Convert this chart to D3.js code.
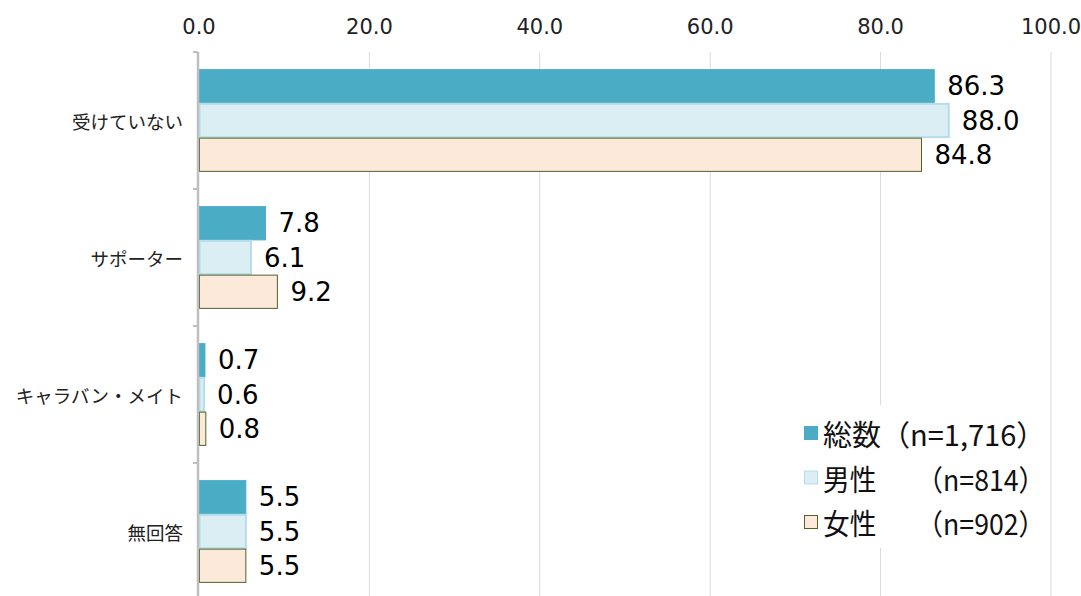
<!DOCTYPE html>
<html>
<head>
    <meta charset="utf-8">
    <title>Horizontal grouped bars with D3.js v7</title>
    <script src="https://d3js.org/d3.v7.min.js"></script>
    <style>
        body { margin: 0; background: #fff; }
        text { font-family: "DejaVu Sans", "Noto Sans CJK JP", sans-serif; }
        .jp { font-family: "Noto Sans CJK JP", sans-serif; }
    </style>
</head>
<body>
    <div id="chart"></div>

    <script>
        const categories = ["受けていない", "サポーター", "キャラバン・メイト", "無回答"];
        const seriesNames = ["総数（n=1,716）", "男性　　（n=814）", "女性　　（n=902）"];
        const totalValues = [86.3, 7.8, 0.7, 5.5];
        const maleValues = [88.0, 6.1, 0.6, 5.5];
        const femaleValues = [84.8, 9.2, 0.8, 5.5];
        const xTicks = [0, 20, 40, 60, 80, 100];

        const series = [totalValues, maleValues, femaleValues];
        const fills = ["#4bacc6", "#daeef3", "#fde9d9"];
        const strokes = ["#4bacc6", "#b7dde8", "#4f6228"];

        const W = 1081, H = 596;
        const margin = {top: 52, right: 30, bottom: -4, left: 199};
        const width = 1051 - margin.left;
        const height = H - margin.top - margin.bottom;

        const svg = d3.select("#chart").append("svg")
            .attr("width", W)
            .attr("height", H);

        const g = svg.append("g")
            .attr("transform", "translate(" + margin.left + "," + margin.top + ")");

        const x = d3.scaleLinear().domain([0, 100]).range([0, width]);
        const y = d3.scaleBand().domain(categories).range([0, height]).paddingInner(0.25).paddingOuter(0.125);
        const y1 = d3.scaleBand().domain(d3.range(series.length)).range([0, y.bandwidth()]);

        // gridlines
        g.selectAll("line.grid")
            .data(xTicks.slice(1))
            .enter().append("line")
            .attr("x1", d => x(d)).attr("x2", d => x(d))
            .attr("y1", 0).attr("y2", height)
            .attr("stroke", "#d9d9d9").attr("stroke-width", 1);

        // top tick labels
        g.selectAll("text.tick")
            .data(xTicks)
            .enter().append("text")
            .attr("x", d => x(d))
            .attr("y", -25)
            .attr("text-anchor", "middle")
            .attr("dominant-baseline", "central")
            .attr("font-size", 21)
            .attr("fill", "#222")
            .text(d => d.toFixed(1));

        // bars
        const groups = g.selectAll("g.cat")
            .data(categories)
            .enter().append("g")
            .attr("transform", d => "translate(0," + y(d) + ")");

        series.forEach((vals, si) => {
            groups.append("rect")
                .attr("x", 0.5)
                .attr("y", (d, ci) => y1(si) + 0.5)
                .attr("width", (d, ci) => Math.max(x(vals[ci]) - 0.5, 1))
                .attr("height", y1.bandwidth() - 1)
                .attr("fill", fills[si])
                .attr("stroke", strokes[si])
                .attr("stroke-width", si === 1 ? 2 : 1);

            groups.append("text")
                .attr("x", (d, ci) => x(vals[ci]) + 13)
                .attr("y", (d, ci) => y1(si) + y1.bandwidth() / 2)
                .attr("dominant-baseline", "central")
                .attr("font-size", 26)
                .attr("fill", "#000")
                .text((d, ci) => vals[ci].toFixed(1));
        });

        // left axis
        const band = y.step();
        const bounds = d3.range(categories.length + 1).map(i => i * band);
        g.append("line")
            .attr("x1", -1).attr("x2", -1)
            .attr("y1", 0).attr("y2", height)
            .attr("stroke", "#bfbfbf").attr("stroke-width", 2.5);
        g.selectAll("line.ytick")
            .data(bounds)
            .enter().append("line")
            .attr("x1", -6).attr("x2", -1)
            .attr("y1", d => d).attr("y2", d => d)
            .attr("stroke", "#bfbfbf").attr("stroke-width", 2);

        g.selectAll("text.cat")
            .data(categories)
            .enter().append("text")
            .attr("class", "jp")
            .attr("x", -16)
            .attr("y", d => y(d) + y.bandwidth() / 2)
            .attr("text-anchor", "end")
            .attr("dominant-baseline", "central")
            .attr("font-size", 18.5)
            .attr("fill", "#222")
            .text(d => d);

        // legend
        const legend = svg.append("g").attr("transform", "translate(792,405)");
        legend.append("rect")
            .attr("x", 0).attr("y", 0)
            .attr("width", 250).attr("height", 143)
            .attr("fill", "#fff");
        let legendLen = null;
        seriesNames.forEach((name, i) => {
            const row = legend.append("g").attr("transform", "translate(12," + (28 + i * 44.5) + ")");
            row.append("rect")
                .attr("x", 0.5).attr("y", -6.5)
                .attr("width", 13).attr("height", 13)
                .attr("fill", fills[i])
                .attr("stroke", strokes[i])
                .attr("stroke-width", 1);
            const t = row.append("text")
                .attr("class", "jp")
                .attr("x", 19)
                .attr("y", 0)
                .attr("dominant-baseline", "central")
                .attr("font-size", 29)
                .attr("fill", "#111")
                .text(name);
            // rows 2-3 squeezed to the same width as the first row
            if (legendLen === null) legendLen = t.node().getComputedTextLength();
            else t.attr("textLength", legendLen).attr("lengthAdjust", "spacingAndGlyphs");
        });
    </script>
</body>
</html>
